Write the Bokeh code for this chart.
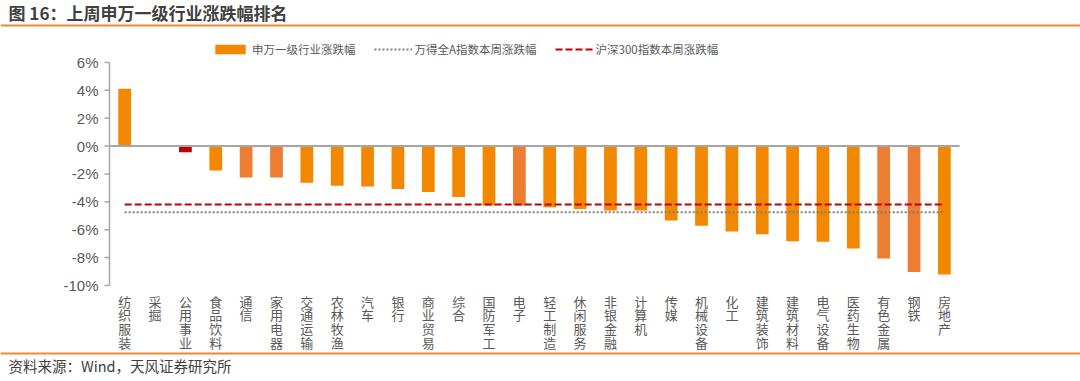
from bokeh.plotting import figure
from bokeh.models import Range1d, Label, BoxAnnotation, Legend, LegendItem, ColumnDataSource
from bokeh.core.properties import value
from bokeh.embed import file_html
from bokeh.resources import INLINE

# ---------------- data ----------------
industries = ["纺织服装", "采掘", "公用事业", "食品饮料", "通信", "家用电器", "交通运输",
              "农林牧渔", "汽车", "银行", "商业贸易", "综合", "国防军工", "电子",
              "轻工制造", "休闲服务", "非银金融", "计算机", "传媒", "机械设备", "化工",
              "建筑装饰", "建筑材料", "电气设备", "医药生物", "有色金属", "钢铁", "房地产"]
weekly_change = [4.12, 0.0, -0.45, -1.75, -2.25, -2.25, -2.63, -2.85, -2.90, -3.07,
                 -3.30, -3.66, -4.26, -4.26, -4.38, -4.52, -4.62, -4.62, -5.34, -5.72,
                 -6.13, -6.32, -6.82, -6.87, -7.35, -8.06, -9.04, -9.21]
wind_a_change = -4.74
hs300_change = -4.19
y_ticks = [6, 4, 2, 0, -2, -4, -6, -8, -10]
y_tick_labels = ["6%", "4%", "2%", "0%", "-2%", "-4%", "-6%", "-8%", "-10%"]
series_names = ["申万一级行业涨跌幅", "万得全A指数本周涨跌幅", "沪深300指数本周涨跌幅"]
title_text = "图 16：上周申万一级行业涨跌幅排名"
source_text = "资料来源：Wind，天风证券研究所"

# ---------------- layout / styles ----------------
W, H = 1080, 381
AXIS_PX = 109.0        # pixel x of the value axis
BAND_PX = 30.36        # pixel width of one category band
ZERO_PX = 145.6        # pixel y of 0%
PCT_PX = 13.94         # pixels per 1%

ORANGE = "#F28700"
CORAL = "#ED7D31"
RED = "#C00000"
GRID_GRAY = "#A6A6A6"
TXT = "#595959"
RULE = "#F0892D"
CJK = "Noto Sans CJK SC"
LAT = "Liberation Sans"
coral_set = {"通信", "家用电器", "电子", "有色金属", "钢铁"}
red_set = {"公用事业"}
bar_colors = [RED if n in red_set else (CORAL if n in coral_set else ORANGE) for n in industries]

n = len(industries)
idx = list(range(n))
x_start = -AXIS_PX / BAND_PX - 0.5
x_end = (W - AXIS_PX) / BAND_PX - 0.5
y_end = ZERO_PX / PCT_PX
y_start = -(H - ZERO_PX) / PCT_PX

p = figure(width=W, height=H, x_range=Range1d(x_start, x_end), y_range=Range1d(y_start, y_end),
           x_axis_type=None, y_axis_type=None, output_backend="svg", toolbar_location=None,
           min_border=0, min_border_left=0, min_border_right=0, min_border_top=0,
           min_border_bottom=0)
p.outline_line_color = None
p.xgrid.grid_line_color = None
p.ygrid.grid_line_color = None
p.background_fill_color = "white"
p.border_fill_color = "white"

# bars
src = ColumnDataSource(dict(x=idx, top=weekly_change, color=bar_colors))
bars = p.vbar(x="x", top="top", bottom=0, width=0.42, source=src,
              fill_color="color", line_color=None)

# category axis line at 0 (drawn over bar roots)
band_left = -0.5
band_right = n - 0.5
p.segment(x0=[band_left], y0=[0], x1=[band_right], y1=[0], line_color=GRID_GRAY, line_width=2)

# benchmark lines
wind_line = p.line(x=[idx[0], idx[-1]], y=[wind_a_change, wind_a_change],
                   line_color="#7F7F7F", line_width=2, line_dash="2 2")
hs_line = p.line(x=[idx[0], idx[-1]], y=[hs300_change, hs300_change],
                 line_color=RED, line_width=2, line_dash="7 3")

# value axis (line, ticks, labels) from the tick arrays
y_lo, y_hi = min(y_ticks), max(y_ticks)
p.segment(x0=[band_left], y0=[y_lo], x1=[band_left], y1=[y_hi], line_color=GRID_GRAY, line_width=1.5)
tick_len = 5 / BAND_PX
p.segment(x0=[band_left - tick_len] * len(y_ticks), y0=y_ticks,
          x1=[band_left] * len(y_ticks), y1=y_ticks, line_color=GRID_GRAY, line_width=1.5)
p.text(x=[band_left - 11 / BAND_PX] * len(y_ticks), y=y_ticks, text=y_tick_labels,
       text_align="right", text_baseline="middle", text_font=value(LAT),
       text_font_size="15px", text_color=TXT)

# category labels, characters stacked vertically
vertical_labels = ["\n".join(name) for name in industries]
label_top = y_lo - 6 / PCT_PX
p.text(x=idx, y=[label_top] * n, text=vertical_labels, text_align="center",
       text_baseline="top", text_font=value(CJK), text_font_size="13px",
       text_color=TXT, text_line_height=0.72)

# legend
legend = Legend(items=[LegendItem(label=series_names[0], renderers=[bars]),
                       LegendItem(label=series_names[1], renderers=[wind_line]),
                       LegendItem(label=series_names[2], renderers=[hs_line])],
                orientation="horizontal", location=(211, H - 57),
                glyph_width=38, glyph_height=12, label_height=12,
                label_standoff=3, spacing=18, padding=0, margin=0,
                border_line_color=None, background_fill_alpha=0,
                label_text_font=CJK, label_text_font_size="11.5px",
                label_text_color=TXT)
p.add_layout(legend, "center")

# title, rules, source note
p.add_layout(Label(x=8, y=H - 12, x_units="screen", y_units="screen", text=title_text,
                   text_font=CJK, text_font_size="17px", text_font_style="bold",
                   text_color="#404040", text_baseline="middle"))
p.add_layout(BoxAnnotation(left=0, right=W, bottom=H - 26, top=H - 24,
                           left_units="screen", right_units="screen",
                           bottom_units="screen", top_units="screen",
                           fill_color=RULE, fill_alpha=1, line_color=None))
p.add_layout(BoxAnnotation(left=0, right=W, bottom=H - 354, top=H - 352,
                           left_units="screen", right_units="screen",
                           bottom_units="screen", top_units="screen",
                           fill_color=RULE, fill_alpha=1, line_color=None))
p.add_layout(Label(x=8, y=H - 365, x_units="screen", y_units="screen", text=source_text,
                   text_font=CJK, text_font_size="14.5px", text_color="#404040",
                   text_baseline="middle"))

open("out.html", "w").write(file_html(p, INLINE))
